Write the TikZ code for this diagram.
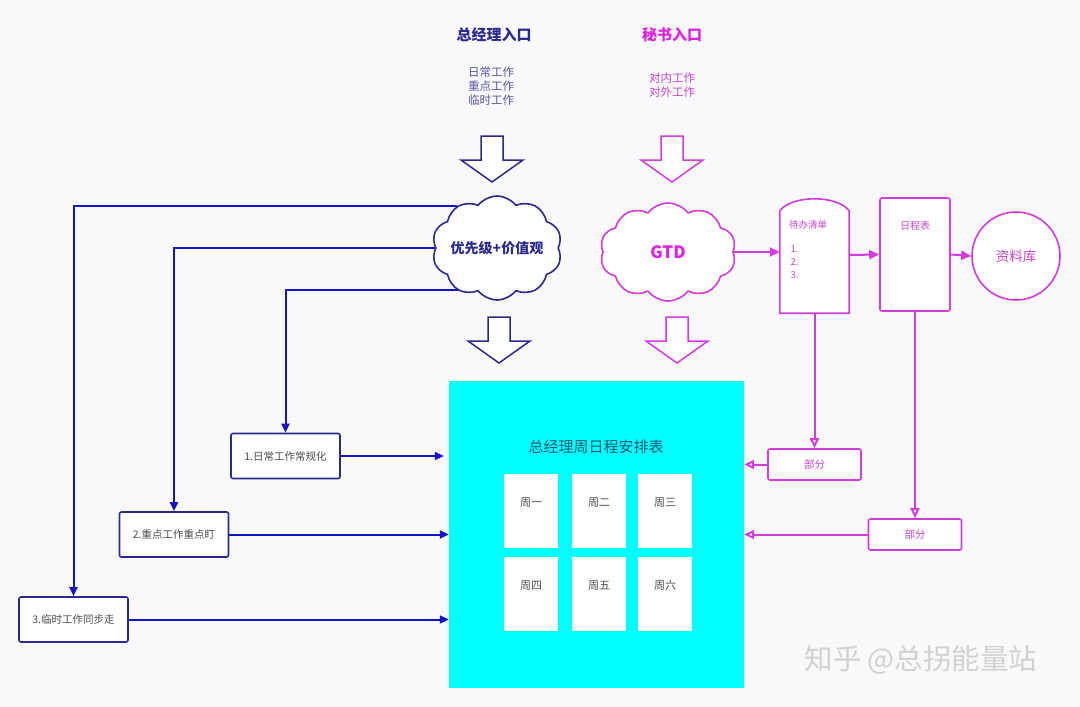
\documentclass[tikz,border=0pt]{standalone}
\usepackage{fontspec}
\setmainfont{Noto Sans CJK SC}
\usetikzlibrary{arrows.meta,shapes.symbols}
\definecolor{navy}{HTML}{2A2A8E}
\definecolor{arrblue}{HTML}{1414C4}
\definecolor{mag}{HTML}{E020E0}
\definecolor{magline}{HTML}{D23CDC}
\definecolor{magtext}{HTML}{C844D0}
\definecolor{pagebg}{HTML}{F9F9FB}
\definecolor{schedcyan}{HTML}{00FFFF}
\definecolor{schedtext}{HTML}{1E5A6E}
\tikzset{
  bluebox/.style={draw=navy,line width=1.6pt,rounded corners=2pt,fill=white,
    minimum width=109pt,minimum height=45pt,text=black!70,
    font=\fontsize{10.5}{12}\selectfont},
  magbox/.style={draw=magline,line width=1.6pt,rounded corners=2pt,fill=white,
    minimum width=93pt,minimum height=31pt,text=magtext,
    font=\fontsize{10.5}{12}\selectfont},
  bluearrow/.style={arrblue,line width=2pt,-{Triangle[length=9pt,width=8pt]}},
  magarrow/.style={magline,line width=2pt,-{Triangle[open,length=10pt,width=9pt]}},
  magfill/.style={magline,line width=2pt,-{Triangle[length=10pt,width=9pt]}},
  puffs/.style={cloud,cloud puffs=10,cloud puff arc=105,line width=1.6pt,fill=white},
  daycard/.style={fill=white,minimum width=54pt,minimum height=74pt,inner sep=0},
  daylabel/.style={anchor=north,yshift=-20pt,text=black!70,font=\fontsize{11}{12}\selectfont},
  small/.style={font=\fontsize{11.5}{14}\selectfont,align=center}
}
% hollow block arrow pointing down, #1,#2 = top centre, #3 = colour
\newcommand{\hollowdown}[3]{%
  \draw[#3,line width=1.5pt,fill=white,shift={(#1,#2)}]
    (-11,0) -- (11,0) -- (11,24) -- (31,24) -- (0,46) -- (-31,24) -- (-11,24) -- cycle;}
\begin{document}
\begin{tikzpicture}[x=1pt,y=-1pt]
\fill[pagebg] (0,0) rectangle (1080,707);

% entries
\node[text=navy,font=\bfseries\fontsize{15}{17}\selectfont] (gmin) at (494,35) {总经理入口};
\node[small,text=navy!80] (gmwork) at (491,86) {日常工作\\重点工作\\临时工作};
\node[text=mag,font=\bfseries\fontsize{15}{17}\selectfont] (secin) at (672,35) {秘书入口};
\node[small,text=magtext] (secwork) at (672,85) {对内工作\\对外工作};

\hollowdown{492}{136}{navy}
\hollowdown{672}{136}{magline}
\hollowdown{499}{317}{navy}
\hollowdown{677}{317}{magline}

% clouds
\node[puffs,aspect=1.3,draw=navy,minimum width=130pt,minimum height=104pt,
  label={[text=navy,font=\bfseries\fontsize{14}{16}\selectfont]center:优先级+价值观}] (prio) at (497,248) {};
\node[puffs,aspect=1.4,draw=magline,minimum width=136pt,minimum height=98pt,
  label={[text=mag,font=\bfseries\fontsize{17}{19}\selectfont]center:GTD}] (gtd) at (668,252) {};

% secretary chain
\node[minimum width=69pt,minimum height=116pt,inner sep=0] (todo) at (814.5,255) {};
\draw[magline,line width=1.6pt,fill=white] (todo.south west) -- ([yshift=-14pt]todo.north west)
  .. controls ([xshift=12pt,yshift=2pt]todo.north west) and ([xshift=-12pt,yshift=2pt]todo.north east)
  .. ([yshift=-14pt]todo.north east) -- (todo.south east) -- cycle;
\node[text=magtext,font=\fontsize{9.5}{11}\selectfont] (todotitle) at (808,225) {待办清单};
\node[text=magtext,font=\fontsize{9.5}{13}\selectfont,align=left,anchor=north west] (todolist) at (787,242) {1.\\2.\\3.};
\node[draw=magline,line width=1.6pt,rounded corners=2pt,fill=white,minimum width=70pt,minimum height=113pt,
  label={[anchor=north,yshift=-20pt,text=magtext,font=\fontsize{10}{12}\selectfont]north:日程表}] (plan) at (915,254.5) {};
\node[circle,draw=magline,line width=1.6pt,fill=white,minimum size=88pt,text=magtext,
  font=\fontsize{13.5}{15}\selectfont] (lib) at (1016,256) {资料库};
\node[magbox] (part1) at (814.5,464.5) {部分};
\node[magbox] (part2) at (915,534.5) {部分};

% weekly schedule
\node[fill=schedcyan,minimum width=295pt,minimum height=307pt] (sched) at (596.5,534.5) {};
\node[text=schedtext,font=\fontsize{15}{17}\selectfont] (schedtitle) at (596,447) {总经理周日程安排表};
\foreach \x/\y/\t [count=\i] in {531/511/周一,599/511/周二,665/511/周三,531/594/周四,599/594/周五,665/594/周六}
  \node[daycard,label={[daylabel]north:\t}] (day\i) at (\x,\y) {};

% tasks
\node[bluebox] (task1) at (285.5,456) {1.日常工作常规化};
\node[bluebox] (task2) at (174,534.5) {2.重点工作重点盯};
\node[bluebox] (task3) at (73.5,619.5) {3.临时工作同步走};

\draw[bluearrow] (prio.134) -| (task3);
\draw[bluearrow] (prio.west) -| (task2);
\draw[bluearrow] (prio.227) -| (task1);
\draw[bluearrow] (task1.east) -- ([xshift=-5pt]task1.east -| sched.west);
\draw[bluearrow] (task2.east) -- (task2.east -| sched.west);
\draw[bluearrow] (task3.east) -- (task3.east -| sched.west);

\draw[magfill] (gtd.east) -- (gtd.east -| todo.west);
\draw[magfill] (todo.east) -- (plan.west);
\draw[magfill] (plan.east) -- (lib.west);
\draw[magarrow] (todo.south) -- (part1.north);
\draw[magarrow] (plan.south) -- (part2.north);
\draw[magarrow] (part1.west) -- (part1.west -| sched.east);
\draw[magarrow] (part2.west) -- (part2.west -| sched.east);

\node[text=black!18,font=\fontsize{28.5}{30}\selectfont] (mark) at (921,660) {知乎 @总拐能量站};
\end{tikzpicture}
\end{document}
